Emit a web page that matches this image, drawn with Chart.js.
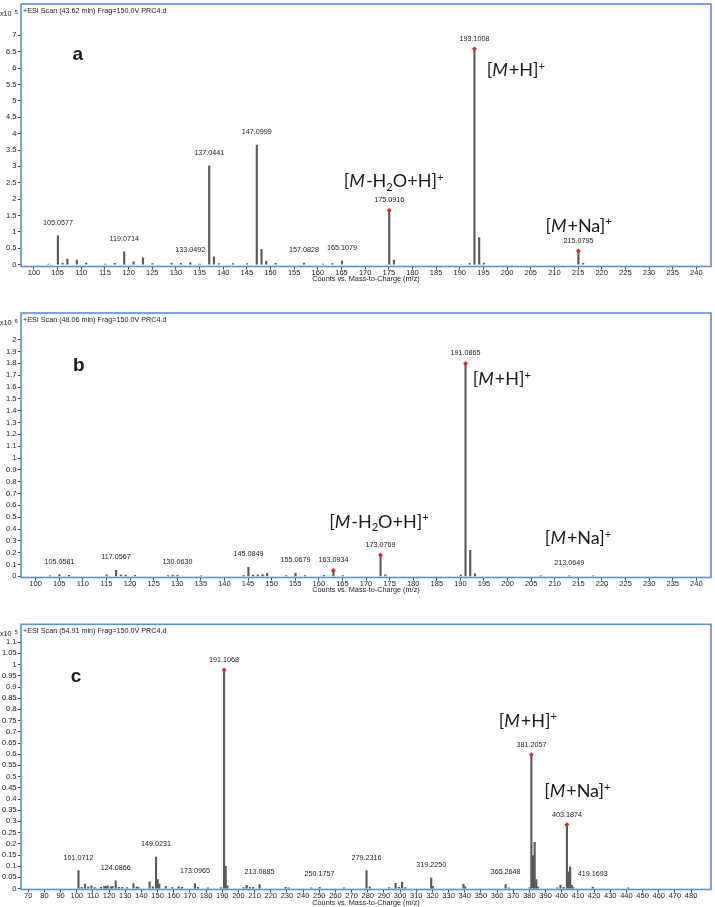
<!DOCTYPE html>
<html>
<head>
<meta charset="utf-8">
<script src="https://cdn.jsdelivr.net/npm/chart.js@4.4.1/dist/chart.umd.min.js"></script>
<style>
  html, body { margin: 0; padding: 0; background: #fff; }
  body { width: 715px; height: 907px; position: relative; overflow: hidden; }
  .panel { position: absolute; left: 0; width: 715px; }
</style>
</head>
<body>
<div class="panel" style="top:0;height:300px"><canvas id="chartA"></canvas></div>
<div class="panel" style="top:300px;height:307px"><canvas id="chartB"></canvas></div>
<div class="panel" style="top:607px;height:300px"><canvas id="chartC"></canvas></div>
<script>
// panel a: counts x10^5
const mzA = [103.05, 105.0577, 106.06, 107.05, 109.07, 111.04, 115.05, 117.07, 119.0714, 121.06,
  123.04, 125.06, 129.07, 131.05, 133.0492, 135.04, 137.0441, 138.05, 139.05, 142.07,
  145.06, 147.0999, 148.10, 149.10, 151.07, 157.0828, 161.07, 163.08, 165.1079, 175.0916,
  176.09, 192.09, 193.1008, 194.10, 195.10, 215.0795, 216.08];
const countsA = [0.02, 0.88, 0.05, 0.17, 0.14, 0.05, 0.02, 0.04, 0.39, 0.09,
  0.21, 0.03, 0.05, 0.04, 0.06, 0.02, 3.02, 0.24, 0.03, 0.03,
  0.03, 3.65, 0.47, 0.11, 0.04, 0.05, 0.02, 0.03, 0.11, 1.66,
  0.14, 0.04, 6.59, 0.83, 0.05, 0.42, 0.04];
const tagA = [105.0577, 119.0714, 133.0492, 137.0441, 147.0999, 157.0828, 165.1079, 175.0916, 193.1008, 215.0795];
const starA = [175.0916, 193.1008, 215.0795];

// panel b: counts x10^6
const mzB = [103.07, 105.0581, 107.07, 115.05, 117.0567, 118.06, 119.07, 121.06, 128.06, 129.07,
  130.0630, 135.08, 144.07, 145.0849, 146.09, 147.07, 148.08, 149.06, 153.09, 155.0679,
  157.08, 161.08, 163.0934, 165.09, 173.0769, 174.08, 190.08, 191.0865, 192.09, 193.09,
  207.07, 213.0649, 218.07];
const countsB = [0.005, 0.014, 0.008, 0.012, 0.05, 0.012, 0.01, 0.008, 0.006, 0.01,
  0.008, 0.005, 0.006, 0.075, 0.01, 0.012, 0.015, 0.025, 0.006, 0.028,
  0.006, 0.008, 0.05, 0.006, 0.18, 0.012, 0.01, 1.80, 0.22, 0.02,
  0.004, 0.005, 0.004];
const tagB = [105.0581, 117.0567, 130.0630, 145.0849, 155.0679, 163.0934, 173.0769, 191.0865, 213.0649];
const starB = [163.0934, 173.0769, 191.0865];

// panel c: counts x10^5
const mzC = [101.0712, 103.08, 105.07, 107.06, 109.07, 111.08, 115.06, 117.07, 118.08, 119.09,
  121.06, 122.07, 124.0866, 126.09, 128.07, 131.09, 135.08, 137.07, 138.09, 145.06,
  147.04, 149.0231, 150.03, 151.04, 155.08, 159.07, 163.08, 165.09, 173.0965, 175.08,
  181.10, 189.10, 191.1068, 192.11, 193.11, 203.10, 205.09, 207.10, 209.10, 213.0885,
  229.10, 231.10, 245.10, 250.1757, 265.20, 279.2316, 281.20, 293.20, 297.20, 299.20,
  301.20, 303.20, 319.2250, 320.23, 339.20, 340.20, 365.2648, 367.30, 380.20, 381.2057,
  382.21, 383.21, 384.21, 385.20, 397.20, 399.20, 401.20, 403.1874, 404.19, 405.19,
  406.19, 407.20, 419.1693, 441.20];
const countsC = [0.08, 0.006, 0.02, 0.008, 0.012, 0.005, 0.006, 0.01, 0.01, 0.012,
  0.008, 0.01, 0.035, 0.006, 0.006, 0.005, 0.022, 0.008, 0.006, 0.03,
  0.008, 0.141, 0.04, 0.02, 0.01, 0.005, 0.008, 0.006, 0.022, 0.006,
  0.004, 0.005, 0.976, 0.10, 0.012, 0.005, 0.015, 0.006, 0.006, 0.018,
  0.006, 0.004, 0.004, 0.006, 0.004, 0.08, 0.008, 0.005, 0.024, 0.006,
  0.029, 0.005, 0.047, 0.01, 0.02, 0.008, 0.018, 0.004, 0.005, 0.598,
  0.147, 0.207, 0.04, 0.008, 0.004, 0.016, 0.006, 0.286, 0.075, 0.097,
  0.015, 0.005, 0.007, 0.003];
const tagC = [101.0712, 124.0866, 149.0231, 173.0965, 191.1068, 213.0885, 250.1757, 279.2316, 319.2250, 365.2648, 381.2057, 403.1874, 419.1693];
const starC = [191.1068, 381.2057, 403.1874];

// tick labels
const xTicksAB = [100, 105, 110, 115, 120, 125, 130, 135, 140, 145, 150, 155, 160, 165, 170,
  175, 180, 185, 190, 195, 200, 205, 210, 215, 220, 225, 230, 235, 240];
const xTicksC = [70, 80, 90, 100, 110, 120, 130, 140, 150, 160, 170, 180, 190, 200, 210, 220,
  230, 240, 250, 260, 270, 280, 290, 300, 310, 320, 330, 340, 350, 360, 370, 380, 390, 400,
  410, 420, 430, 440, 450, 460, 470, 480];
const yTicksA = [0, 0.5, 1, 1.5, 2, 2.5, 3, 3.5, 4, 4.5, 5, 5.5, 6, 6.5, 7];
const yTicksB = [0, 0.1, 0.2, 0.3, 0.4, 0.5, 0.6, 0.7, 0.8, 0.9, 1, 1.1, 1.2, 1.3, 1.4, 1.5,
  1.6, 1.7, 1.8, 1.9, 2];
const yTicksC = [0, 0.05, 0.1, 0.15, 0.2, 0.25, 0.3, 0.35, 0.4, 0.45, 0.5, 0.55, 0.6, 0.65,
  0.7, 0.75, 0.8, 0.85, 0.9, 0.95, 1, 1.05, 1.1];

// ion annotations as rich text pieces
const ionMH = [['['], ['M', 'i'], ['+H]'], ['+', 'sup']];
const ionMNa = [['['], ['M', 'i'], ['+Na]'], ['+', 'sup']];
const ionMH2O = [['['], ['M', 'i'], ['-H'], ['2', 'sub'], ['O+H]'], ['+', 'sup']];

const frameBlue = '#5b8fd4';
const ink = '#1a1a1a';
const sans = '"Liberation Sans", Arial, sans-serif';
Chart.defaults.font.family = sans;

const panels = [
  { id: 'chartA', mz: mzA, counts: countsA, tags: tagA, stars: starA, xTicks: xTicksAB, yTicks: yTicksA,
    xMin: 97.26, xMax: 243.1, yMin: -0.056, yMax: 7.96, padTop: 1.5, axisH: 33.5, titlePad: 16.2,
    scan: '+ESI Scan (43.62 min) Frag=150.0V PRC4.d', exp: '5',
    letter: ['a', 108.15, 6.24],
    ions: [[ionMH, 195.7, 5.76], [ionMH2O, 165.5, 2.36], [ionMNa, 208.1, 1.0]] },
  { id: 'chartB', mz: mzB, counts: countsB, tags: tagB, stars: starB, xTicks: xTicksAB, yTicks: yTicksB,
    xMin: 96.9, xMax: 243.1, yMin: -0.01, yMax: 2.226, padTop: 13, axisH: 29.5, titlePad: 12.2,
    scan: '+ESI Scan (48.06 min) Frag=150.0V PRC4.d', exp: '6',
    letter: ['b', 107.9, 1.735],
    ions: [[ionMH, 192.6, 1.617], [ionMH2O, 162.2, 0.412], [ionMNa, 207.9, 0.273]] },
  { id: 'chartC', mz: mzC, counts: countsC, tags: tagC, stars: starC, xTicks: xTicksC, yTicks: yTicksC,
    xMin: 65.5, xMax: 492.3, yMin: -0.004, yMax: 1.18, padTop: 17.3, axisH: 17.5, titlePad: 0,
    scan: '+ESI Scan (54.91 min) Frag=150.0V PRC4.d', exp: '5',
    letter: ['c', 96.3, 0.921],
    ions: [[ionMH, 361.0, 0.723], [ionMNa, 389.1, 0.408]] }
];

const countAt = (p, m) => p.counts[p.mz.indexOf(m)];

const drawIon = (ctx, parts, x, y, size) => {
  parts.forEach(([t, s]) => {
    let fs = size, dy = 0, style = '';
    if (s === 'sup') { fs = size * 0.62; dy = -size * 0.36; }
    if (s === 'sub') { fs = size * 0.62; dy = size * 0.2; }
    if (s === 'i') style = 'italic ';
    ctx.font = style + fs + 'px Lato, "Open Sans", sans-serif';
    ctx.fillText(t, x, y + dy);
    x += ctx.measureText(t).width + (s === 'i' ? 1 : 0);
  });
};

const makeDecor = p => ({
  id: 'decor',
  afterDraw(chart) {
    const { ctx, chartArea: a, scales: { x, y } } = chart;
    ctx.save();
    ctx.strokeStyle = frameBlue;
    ctx.lineWidth = 1.6;
    ctx.strokeRect(a.left, a.top, a.right - a.left, a.bottom - a.top);

    ctx.fillStyle = ink;
    ctx.textAlign = 'left';
    ctx.textBaseline = 'middle';
    ctx.font = '7.2px ' + sans;
    ctx.fillText(p.scan, a.left + 2, a.top + 6.8);
    ctx.fillText('x10', 0, a.top + 10);
    ctx.font = '6px ' + sans;
    ctx.fillText(p.exp, 14.5, a.top + 8.3);

    // peak m/z labels
    ctx.textAlign = 'center';
    ctx.font = '7.2px ' + sans;
    p.tags.forEach(m => {
      const px = x.getPixelForValue(m);
      const py = y.getPixelForValue(countAt(p, m));
      ctx.fillText(m.toFixed(4), px, py - (p.stars.includes(m) ? 10 : 13));
    });

    ctx.textAlign = 'left';
    ctx.textBaseline = 'alphabetic';
    ctx.font = 'bold 19px ' + sans;
    ctx.fillText(p.letter[0], x.getPixelForValue(p.letter[1]), y.getPixelForValue(p.letter[2]));
    p.ions.forEach(([parts, mx, my]) => {
      drawIon(ctx, parts, x.getPixelForValue(mx), y.getPixelForValue(my), 18);
    });
    ctx.restore();
  }
});

panels.forEach(p => {
  new Chart(document.getElementById(p.id), {
    type: 'bar',
    data: {
      datasets: [
        {
          type: 'bar',
          data: p.mz.map((m, i) => ({ x: m, y: p.counts[i] })),
          backgroundColor: '#5a5a5a',
          barThickness: 1.5,
          order: 2
        },
        {
          type: 'scatter',
          data: p.stars.map(m => ({ x: m, y: countAt(p, m) })),
          pointStyle: 'rectRot',
          pointRadius: 2.4,
          backgroundColor: '#e3231e',
          borderWidth: 0,
          order: 1
        }
      ]
    },
    options: {
      responsive: true,
      maintainAspectRatio: false,
      animation: false,
      layout: { padding: { top: p.padTop, right: 2, left: 0, bottom: 0 } },
      plugins: { legend: { display: false }, tooltip: { enabled: false } },
      scales: {
        x: {
          type: 'linear',
          min: p.xMin,
          max: p.xMax,
          offset: false,
          grid: { display: true, drawOnChartArea: false, drawTicks: true, tickLength: 3, color: '#444', offset: false },
          border: { display: false },
          afterBuildTicks: s => { s.ticks = p.xTicks.map(v => ({ value: v })); },
          afterFit: s => { s.height = p.axisH; s.paddingLeft = 0; s.paddingRight = 0; },
          ticks: {
            autoSkip: false, maxRotation: 0, minRotation: 0, padding: -1,
            color: ink, font: { size: 7.5 },
            callback: v => String(v)
          },
          title: {
            display: true,
            text: 'Counts vs. Mass-to-Charge (m/z)',
            color: ink,
            font: { size: 7.3 },
            padding: { top: 0, bottom: p.titlePad }
          }
        },
        y: {
          min: p.yMin,
          max: p.yMax,
          grid: { display: true, drawOnChartArea: false, drawTicks: true, tickLength: 3, color: '#444' },
          border: { display: false },
          afterBuildTicks: s => { s.ticks = p.yTicks.map(v => ({ value: v })); },
          afterFit: s => { s.width = 21; s.paddingTop = 0; s.paddingBottom = 0; },
          ticks: {
            autoSkip: false, padding: 1.5,
            color: ink, font: { size: 7.5 },
            callback: v => String(+v.toFixed(2))
          }
        }
      }
    },
    plugins: [makeDecor(p)]
  });
});
</script>
</body>
</html>
